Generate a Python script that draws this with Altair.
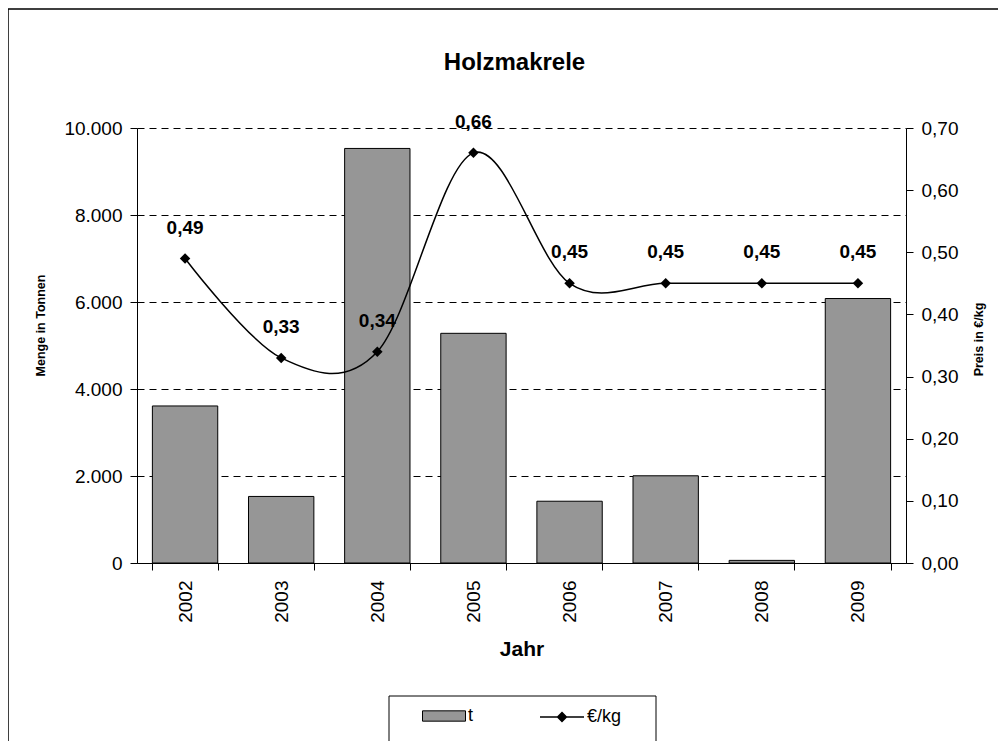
import altair as alt
import pandas as pd

# ---- data ----
years = ["2002", "2003", "2004", "2005", "2006", "2007", "2008", "2009"]
tonnes = [3610, 1530, 9530, 5280, 1420, 2005, 60, 6080]
prices = [0.49, 0.33, 0.34, 0.66, 0.45, 0.45, 0.45, 0.45]
tonne_ticks = [0, 2000, 4000, 6000, 8000, 10000]
price_ticks = [0.0, 0.1, 0.2, 0.3, 0.4, 0.5, 0.6, 0.7]

df = pd.DataFrame({"Jahr": years, "t": tonnes, "preis": prices})

FONT = "Liberation Sans"
W, H = 769, 435

x_enc = alt.X(
    "Jahr:N",
    sort=years,
    scale=alt.Scale(paddingInner=0.32, paddingOuter=0.16),
    axis=alt.Axis(
        title="Jahr", labelAngle=270, tickBand="extent", tickSize=7,
        labelPadding=10, labelFontSize=19, labelFont=FONT, labelColor="black",
        domainColor="black", tickColor="black", grid=False,
        titleFont=FONT, titleFontSize=21, titleFontWeight="bold", titleColor="black",
        titleX=W / 2, titleY=86, titleBaseline="middle", titleAlign="center",
    ),
)

base = alt.Chart(df)

bars = base.transform_calculate(serie="'t'").mark_bar(
    stroke="black", strokeWidth=1
).encode(
    x=x_enc,
    y=alt.Y(
        "t:Q",
        scale=alt.Scale(domain=[0, 10000], nice=False),
        axis=alt.Axis(
            orient="left", values=tonne_ticks,
            labelExpr="replace(format(datum.value, ','), ',', '.')",
            grid=True, gridDash=[7, 5], gridColor="black", gridWidth=1,
            tickSize=7, labelPadding=8, labelFontSize=19, labelFont=FONT, labelColor="black",
            domainColor="black", tickColor="black",
            title="Menge in Tonnen", titleFont=FONT, titleFontSize=12.5, titleFontWeight="bold",
            titleColor="black", titleAngle=270, titleX=-97, titleY=197,
            titleBaseline="middle", titleAlign="center",
        ),
    ),
    fill=alt.Fill(
        "serie:N",
        scale=alt.Scale(domain=["t"], range=["#969696"]),
        legend=alt.Legend(
            title=None, orient="none", legendX=285, legendY=566, padding=0,
            symbolType="M-1,-0.24H1V0.24H-1Z", symbolSize=1849,
            symbolStrokeColor="black", symbolStrokeWidth=1,
            labelFont=FONT, labelFontSize=18, labelColor="black", labelOffset=2,
            zindex=1,
        ),
    ),
)

y_price = alt.Y(
    "preis:Q",
    scale=alt.Scale(domain=[0, 0.7], nice=False),
    axis=alt.Axis(
        orient="right", values=price_ticks,
        labelExpr="replace(format(datum.value, '.2f'), '.', ',')",
        grid=False, tickSize=7, labelPadding=8, labelFontSize=19, labelFont=FONT,
        labelColor="black", domainColor="black", tickColor="black",
        title="Preis in €/kg", titleFont=FONT, titleFontSize=12.5, titleFontWeight="bold",
        titleColor="black", titleAngle=270, titleX=72, titleY=211,
        titleBaseline="middle", titleAlign="center",
    ),
)

line = base.transform_calculate(serie2="'€/kg'").mark_line(
    interpolate="cardinal", strokeWidth=1.5
).encode(
    x=alt.X("Jahr:N", sort=years),
    y=y_price,
    stroke=alt.Stroke(
        "serie2:N",
        scale=alt.Scale(domain=["€/kg"], range=["black"]),
        legend=alt.Legend(
            title=None, orient="none", legendX=402, legendY=566, padding=0,
            symbolType="M-1,0H1M0,-0.2L0.2,0L0,0.2L-0.2,0Z M0,-0.1L0.1,0L0,0.1L-0.1,0Z",
            symbolSize=1936, symbolStrokeWidth=1.5, symbolFillColor="black",
            labelFont=FONT, labelFontSize=18, labelColor="black", labelOffset=2,
            zindex=1,
        ),
    ),
)

points = base.mark_point(shape="diamond", filled=True, color="black", size=110, opacity=1).encode(
    x=alt.X("Jahr:N", sort=years),
    y=alt.Y("preis:Q"),
)

labels = base.transform_calculate(
    lab="replace(format(datum.preis, '.2f'), '.', ',')"
).mark_text(
    font=FONT, fontSize=19, fontWeight="bold", color="black", dy=-31
).encode(
    x=alt.X("Jahr:N", sort=years),
    y=alt.Y("preis:Q"),
    text="lab:N",
)

price_layer = alt.layer(line, points, labels)

deco_df = pd.DataFrame({"k": [0]})
frame = alt.Chart(deco_df).mark_rect(
    fill="transparent", stroke="black", strokeWidth=1.5
).encode(
    x=alt.value(-129), x2=alt.value(900), y=alt.value(-119), y2=alt.value(700)
)
legend_box = alt.Chart(deco_df).mark_rect(
    fill="transparent", stroke="black", strokeWidth=1
).encode(
    x=alt.value(252), x2=alt.value(519), y=alt.value(568), y2=alt.value(640)
)

chart = alt.layer(frame, legend_box, bars, price_layer).resolve_scale(
    y="independent", fill="independent", stroke="independent"
).properties(
    width=W, height=H,
    padding={"left": 129, "top": 120, "right": 92, "bottom": 178},
    autosize=alt.AutoSizeParams(type="none"),
    title=alt.Title(
        "Holzmakrele", font=FONT, fontSize=24, fontWeight="bold", color="black",
        anchor="middle", frame="group", offset=-67, dx=-7,
    ),
).configure_view(stroke=None)

chart.save("out.html", embed_options={"renderer": "svg", "actions": False})
